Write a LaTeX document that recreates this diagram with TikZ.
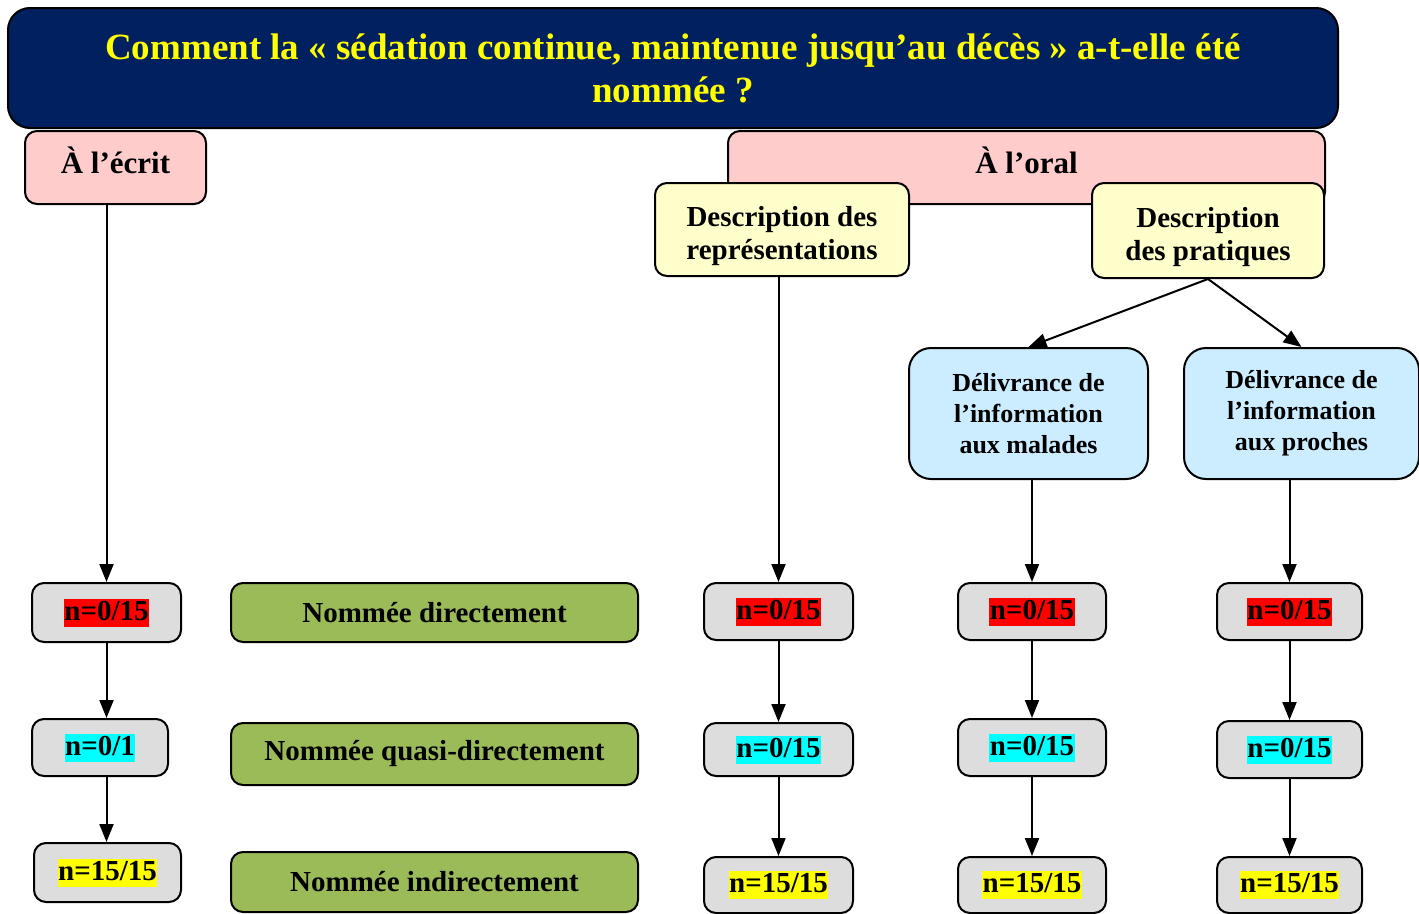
\documentclass[tikz,border=0pt]{standalone}
\usepackage{fontspec}
\setmainfont{Liberation Serif}
\usetikzlibrary{arrows.meta, positioning}
\definecolor{titlenavy}{HTML}{002060}
\definecolor{pinkbox}{HTML}{FFCCCC}
\definecolor{yellowbox}{HTML}{FFFFCC}
\definecolor{bluebox}{HTML}{CCECFF}
\definecolor{greybox}{HTML}{DDDDDD}
\definecolor{greenbox}{HTML}{9BBB59}
\definecolor{hlred}{HTML}{FF0000}
\definecolor{hlcyan}{HTML}{00FFFF}
\definecolor{hlyellow}{HTML}{FFFF00}
\newcommand{\hlbox}[2]{{\fboxsep=0.5pt\colorbox{#1}{\rule[-6pt]{0pt}{27pt}#2}}}

\begin{document}
\begin{tikzpicture}[x=1pt, y=-1pt,
        base/.style={rectangle, draw, line width=2pt, rounded corners=12pt,
                    align=center, inner sep=0pt},
        titlebox/.style={base, rounded corners=22pt, fill=titlenavy, text=hlyellow,
                    font=\bfseries\fontsize{37}{43}\selectfont},
        modebox/.style={base, fill=pinkbox, text depth=14pt,
                    font=\bfseries\fontsize{31}{34}\selectfont},
        descbox/.style={base, fill=yellowbox, font=\bfseries\fontsize{29}{33}\selectfont},
        infobox/.style={base, rounded corners=22pt, fill=bluebox,
                    font=\bfseries\fontsize{26}{31}\selectfont},
        cntbox/.style={base, fill=greybox, font=\bfseries\fontsize{29}{33}\selectfont},
        labbox/.style={base, fill=greenbox, minimum width=407pt,
                    font=\bfseries\fontsize{29}{33}\selectfont},
        arr/.style={-{Triangle[length=18pt, width=14pt]}, line width=2pt}
    ]
    \useasboundingbox (0,0) rectangle (1419,913);

    % Title and modes
    \node[titlebox, minimum width=1330pt, minimum height=120pt] (ti) at (673,68)
        {Comment la « sédation continue, maintenue jusqu’au décès » a-t-elle été\\nommée ?};
    \node[modebox, minimum width=181pt, minimum height=73pt] (ec) at (115.5,167.5) {À l’écrit};
    \node[modebox, minimum width=597pt, minimum height=73pt] (or) at (1026.5,167.5) {À l’oral};

    % Descriptions
    \node[descbox, minimum width=254pt, minimum height=93pt] (rp) at (782,229.5)
        {\rule{0pt}{34pt}Description des\\représentations};
    \node[descbox, minimum width=232pt, minimum height=95pt] (pr) at (1208,230.5)
        {\rule{0pt}{34pt}Description\\des pratiques};
    \node[infobox, minimum width=239pt, minimum height=131pt] (ma) at (1028.5,413.5)
        {Délivrance de\\l’information\\aux malades};
    \node[infobox, minimum width=235pt, minimum height=131pt] (pc) at (1301.5,413.5)
        {Délivrance de\\l’information\\aux proches};

    % Row 1
    \node[cntbox, minimum width=149pt, minimum height=59pt] (c11) at (106.5,612.5) {\hlbox{hlred}{n=0/15}};
    \node[labbox, minimum height=59pt] (l1) at (434.5,612.5) {Nommée directement};
    \node[cntbox, minimum width=149pt, minimum height=57pt] (c21) at (778.5,611.5) {\hlbox{hlred}{n=0/15}};
    \node[cntbox, minimum width=148pt, minimum height=57pt] (c31) at (1032,611.5) {\hlbox{hlred}{n=0/15}};
    \node[cntbox, minimum width=145pt, minimum height=57pt] (c41) at (1289.5,611.5) {\hlbox{hlred}{n=0/15}};

    % Row 2
    \node[cntbox, minimum width=136pt, minimum height=57pt] (c12) at (100,747.5) {\hlbox{hlcyan}{n=0/1}};
    \node[labbox, minimum height=62pt] (l2) at (434.5,754) {Nommée quasi-directement};
    \node[cntbox, minimum width=149pt, minimum height=53pt] (c22) at (778.5,749.5) {\hlbox{hlcyan}{n=0/15}};
    \node[cntbox, minimum width=148pt, minimum height=57pt] (c32) at (1032,747.5) {\hlbox{hlcyan}{n=0/15}};
    \node[cntbox, minimum width=145pt, minimum height=57pt] (c42) at (1289.5,749.5) {\hlbox{hlcyan}{n=0/15}};

    % Row 3
    \node[cntbox, minimum width=147pt, minimum height=59pt] (c13) at (107.5,872.5) {\hlbox{hlyellow}{n=15/15}};
    \node[labbox, minimum height=60pt] (l3) at (434.5,882) {Nommée indirectement};
    \node[cntbox, minimum width=149pt, minimum height=56pt] (c23) at (778.5,885) {\hlbox{hlyellow}{n=15/15}};
    \node[cntbox, minimum width=148pt, minimum height=56pt] (c33) at (1032,885) {\hlbox{hlyellow}{n=15/15}};
    \node[cntbox, minimum width=145pt, minimum height=56pt] (c43) at (1289.5,885) {\hlbox{hlyellow}{n=15/15}};

    % Connections
    \draw[arr] (c11.north |- ec.south) -- (c11.north);
    \draw[arr] (c21.north |- rp.south) -- (c21.north);
    \draw[arr] (pr.south) -- (ma.north); \draw[arr] (pr.south) -- (pc.north);
    \draw[arr] (c31.north |- ma.south) -- (c31.north);
    \draw[arr] (c41.north |- pc.south) -- (c41.north);
    \draw[arr] (c11.south) -- (c11.south |- c12.north);
    \draw[arr] (c11.south |- c12.south) -- (c11.south |- c13.north);
    \draw[arr] (c21.south) -- (c22.north); \draw[arr] (c22.south) -- (c23.north);
    \draw[arr] (c31.south) -- (c32.north); \draw[arr] (c32.south) -- (c33.north);
    \draw[arr] (c41.south) -- (c42.north); \draw[arr] (c42.south) -- (c43.north);
\end{tikzpicture}
\end{document}
